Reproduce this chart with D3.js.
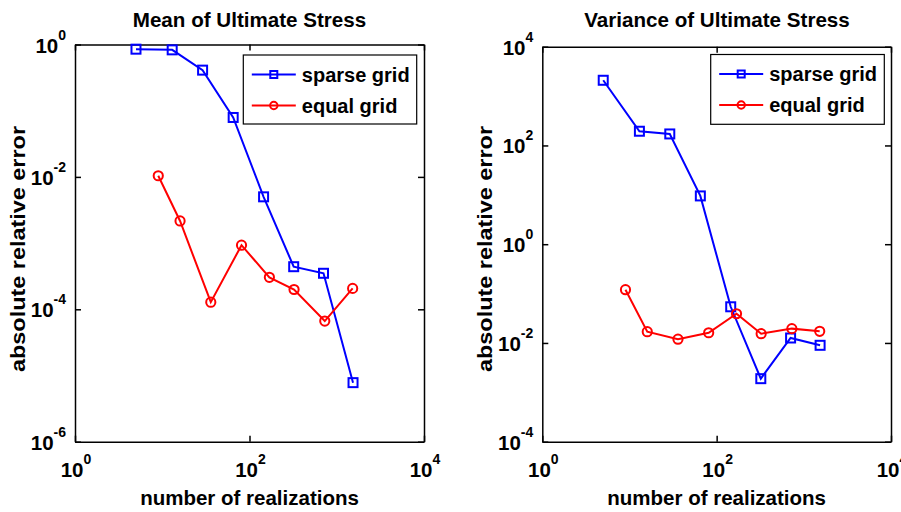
<!DOCTYPE html>
<html lang="en">
<head>
<meta charset="UTF-8">
<title>Ultimate Stress error</title>
<script src="https://d3js.org/d3.v7.min.js"></script>
<style>
  body { margin: 0; background: #fff; }
  text { font-family: "Liberation Sans", Arial, Helvetica, sans-serif; font-weight: bold; fill: #000; }
</style>
</head>
<body>
<svg id="chart" width="901" height="512"></svg>
<script>
// number of realizations
const sparseN = [5, 13, 29, 65, 145, 321, 705, 1537];
const equalN  = [9, 16, 36, 81, 169, 324, 729, 1521];

// mean of ultimate stress, absolute relative error
const meanSparse = [0.85, 0.83, 0.41, 0.079, 0.005, 4.4e-4, 3.5e-4, 7.8e-6];
const meanEqual  = [0.0104, 2.16e-3, 1.28e-4, 9.3e-4, 3.04e-4, 1.99e-4, 6.65e-5, 2.07e-4];

// variance of ultimate stress, absolute relative error
const varSparse = [2090, 194, 171, 9.5, 0.054, 1.89e-3, 0.0126, 8.96e-3];
const varEqual  = [0.12, 0.0169, 0.0119, 0.0161, 0.039, 0.0154, 0.0195, 0.0172];

const xTicks = [0, 2, 4];
const meanYTicks = [-6, -4, -2, 0];
const varYTicks = [-4, -2, 0, 2, 4];

const seriesNames = ["sparse grid", "equal grid"];
const BLUE = "#0000ff", RED = "#ff0000";

const svg = d3.select("#chart");

function supLabel(sel, exp) {
  sel.append("tspan").text("10");
  sel.append("tspan").attr("dy", -13).attr("font-size", 14).text(exp);
}

function panel(opt) {
  const x = d3.scaleLog().domain([1, 1e4]).range([opt.left, opt.right]);
  const y = d3.scaleLog().domain(opt.yDomain).range([opt.bottom, opt.top]);
  const g = svg.append("g");

  // axes box with inward ticks
  const xt = xTicks.map(e => Math.pow(10, e));
  const yt = opt.yTicks.map(e => Math.pow(10, e));
  const mk = (axis, tr, vals) => g.append("g").attr("transform", tr)
    .call(axis.tickValues(vals).tickSizeInner(-6).tickSizeOuter(0).tickFormat(""))
    .call(a => a.selectAll("path,line").attr("stroke", "#000").attr("stroke-width", 1.5));
  mk(d3.axisBottom(x), `translate(0,${opt.bottom})`, xt);
  mk(d3.axisTop(x), `translate(0,${opt.top})`, xt);
  mk(d3.axisLeft(y), `translate(${opt.left},0)`, yt);
  mk(d3.axisRight(y), `translate(${opt.right},0)`, yt);

  // tick labels
  xTicks.forEach(e => {
    g.append("text").attr("x", x(Math.pow(10, e)) + 1).attr("y", opt.bottom + 35)
      .attr("text-anchor", "middle").attr("font-size", 20.5)
      .call(supLabel, String(e));
  });
  opt.yTicks.forEach(e => {
    g.append("text").attr("x", opt.left - 9).attr("y", y(Math.pow(10, e)) + 8)
      .attr("text-anchor", "end").attr("font-size", 20.5)
      .call(supLabel, String(e));
  });

  // titles and axis labels
  g.append("text").attr("x", opt.titleX).attr("y", 27).attr("text-anchor", "middle")
    .attr("font-size", 20.6).text(opt.title);
  g.append("text").attr("x", (opt.left + opt.right) / 2).attr("y", 505).attr("text-anchor", "middle")
    .attr("font-size", 20.5).text("number of realizations");
  g.append("text").attr("transform", `translate(${opt.left - 50},249) rotate(-90)`)
    .attr("text-anchor", "middle").attr("font-size", 20.5)
    .attr("textLength", 246).attr("lengthAdjust", "spacingAndGlyphs")
    .text("absolute relative error");

  const line = d3.line().x(d => x(d[0])).y(d => y(d[1]));
  const sData = sparseN.map((n, i) => [n, opt.sparse[i]]);
  const eData = equalN.map((n, i) => [n, opt.equal[i]]);

  g.append("path").datum(sData).attr("d", line).attr("fill", "none")
    .attr("stroke", BLUE).attr("stroke-width", 2);
  g.selectAll(".sq").data(sData).enter().append("rect")
    .attr("x", d => x(d[0]) - 4.5).attr("y", d => y(d[1]) - 4.5)
    .attr("width", 9).attr("height", 9)
    .attr("fill", "none").attr("stroke", BLUE).attr("stroke-width", 2);

  g.append("path").datum(eData).attr("d", line).attr("fill", "none")
    .attr("stroke", RED).attr("stroke-width", 2);
  g.selectAll(".ci").data(eData).enter().append("circle")
    .attr("cx", d => x(d[0])).attr("cy", d => y(d[1])).attr("r", 4.6)
    .attr("fill", "none").attr("stroke", RED).attr("stroke-width", 2);

  // legend
  const L = opt.legend;
  g.append("rect").attr("x", L.x).attr("y", L.y).attr("width", L.w).attr("height", L.h)
    .attr("fill", "#fff").attr("stroke", "#000").attr("stroke-width", 1.2);
  seriesNames.forEach((name, i) => {
    const ly = L.y + 19.5 + i * 31;
    const col = i === 0 ? BLUE : RED;
    g.append("line").attr("x1", L.x + 8.5).attr("x2", L.x + 52.5).attr("y1", ly).attr("y2", ly)
      .attr("stroke", col).attr("stroke-width", 2);
    if (i === 0) {
      g.append("rect").attr("x", L.x + 27).attr("y", ly - 3.5).attr("width", 7).attr("height", 7)
        .attr("fill", "none").attr("stroke", col).attr("stroke-width", 2);
    } else {
      g.append("circle").attr("cx", L.x + 30.5).attr("cy", ly).attr("r", 3.7)
        .attr("fill", "none").attr("stroke", col).attr("stroke-width", 2);
    }
    g.append("text").attr("x", L.x + 58.5).attr("y", ly + 7).attr("font-size", 20).text(name);
  });
}

panel({
  left: 75, right: 424, top: 44.5, bottom: 441.7,
  yDomain: [1e-6, 1], yTicks: meanYTicks,
  title: "Mean of Ultimate Stress", titleX: 249.5,
  sparse: meanSparse, equal: meanEqual,
  legend: { x: 243.3, y: 55, w: 173.4, h: 69 }
});

panel({
  left: 542.3, right: 891, top: 46.7, bottom: 441.7,
  yDomain: [1e-4, 1e4], yTicks: varYTicks,
  title: "Variance of Ultimate Stress", titleX: 717,
  sparse: varSparse, equal: varEqual,
  legend: { x: 710.7, y: 54.5, w: 173.6, h: 69.8 }
});
</script>
</body>
</html>
